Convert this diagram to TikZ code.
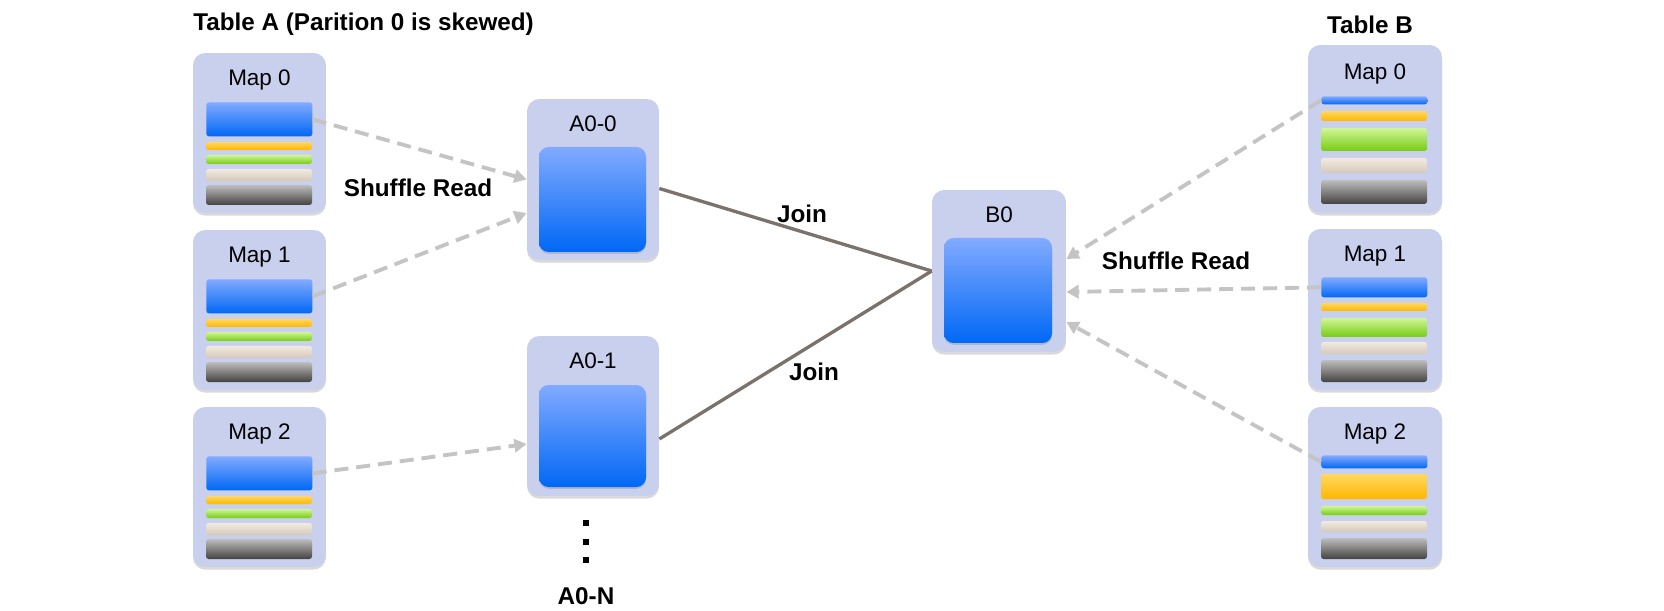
\documentclass[tikz,border=0pt]{standalone}
\usepackage{fontspec}
\setmainfont{Liberation Sans}
\usetikzlibrary{positioning}
\usetikzlibrary{arrows.meta}
\usetikzlibrary{shadows}

\definecolor{boxfill}{RGB}{200,208,238}
\definecolor{bluetop}{RGB}{130,170,255}
\definecolor{bluebot}{RGB}{0,104,245}
\definecolor{yeltop}{RGB}{255,216,96}
\definecolor{yelbot}{RGB}{255,182,0}
\definecolor{grntop}{RGB}{208,246,152}
\definecolor{grnbot}{RGB}{118,204,18}
\definecolor{begtop}{RGB}{242,234,224}
\definecolor{begbot}{RGB}{212,200,186}
\definecolor{grytop}{RGB}{190,190,190}
\definecolor{grybot}{RGB}{68,66,64}
\definecolor{readgray}{RGB}{196,196,196}
\definecolor{joingray}{RGB}{122,114,107}

\begin{document}
\begin{tikzpicture}[x=0.02cm,y=-0.02cm,
 box/.style={fill=boxfill,rounded corners=7pt,minimum width=2.66cm,inner sep=0pt,
  drop shadow={shadow xshift=0pt,shadow yshift=-1.5pt,opacity=.3,fill=black!50}},
 lbl/.style={anchor=base,inner sep=0pt,font=\fontsize{12.8}{15}\selectfont},
 ttl/.style={anchor=base,inner sep=0pt,font=\bfseries\fontsize{13.8}{16}\selectfont},
 bluebar/.style={anchor=north west,inner sep=0pt,minimum width=2.12cm,rounded corners=1.5pt,
  top color=bluetop,bottom color=bluebot},
 yelbar/.style={rounded corners=1.5pt,top color=yeltop,bottom color=yelbot},
 grnbar/.style={rounded corners=1.5pt,top color=grntop,bottom color=grnbot},
 begbar/.style={rounded corners=1.5pt,top color=begtop,bottom color=begbot},
 grybar/.style={rounded corners=1.5pt,top color=grytop,bottom color=grybot},
 part/.style={rounded corners=5.5pt,top color=bluetop,bottom color=bluebot,
  drop shadow={shadow xshift=0pt,shadow yshift=-1pt,opacity=.25,fill=black!60}},
 dot/.style={fill=black,inner sep=0pt,minimum size=0.12cm},
 read/.style={draw=readgray,line width=2.2pt,dash pattern=on 8pt off 4.5pt,
  -{Triangle[length=7pt,width=7.5pt]}},
 joinline/.style={draw=joingray,line width=1.9pt}]
\useasboundingbox (0,0) rectangle (1664,611);

% table A
\node[ttl,anchor=base west] (tA) at (193,31) {Table A (Parition 0 is skewed)};
\node[box,minimum height=3.2cm] (ma0) at (259.5,133) {};
\node[box,minimum height=3.2cm] (ma1) at (259.5,310) {};
\node[box,minimum height=3.2cm] (ma2) at (259.5,487) {};
\node[lbl] (ma0t) at ([yshift=-0.66cm]ma0.north) {Map 0};
\node[lbl] (ma1t) at ([yshift=-0.66cm]ma1.north) {Map 1};
\node[lbl] (ma2t) at ([yshift=-0.66cm]ma2.north) {Map 2};
\node[bluebar,minimum height=0.68cm] (ma0b) at (206,102) {};
\shade[yelbar] (206,142) rectangle (312,150);
\shade[grnbar] (206,155) rectangle (312,164);
\shade[begbar] (206,169) rectangle (312,181);
\shade[grybar] (206,185) rectangle (312,205);
\node[bluebar,minimum height=0.68cm] (ma1b) at (206,279) {};
\shade[yelbar] (206,319) rectangle (312,327);
\shade[grnbar] (206,332) rectangle (312,341);
\shade[begbar] (206,346) rectangle (312,358);
\shade[grybar] (206,362) rectangle (312,382);
\node[bluebar,minimum height=0.68cm] (ma2b) at (206,456) {};
\shade[yelbar] (206,496) rectangle (312,504);
\shade[grnbar] (206,509) rectangle (312,518);
\shade[begbar] (206,523) rectangle (312,535);
\shade[grybar] (206,539) rectangle (312,559);

% reducers of A
\node[box,minimum width=2.64cm,minimum height=3.22cm] (a00) at (593,179.5) {};
\node[box,minimum width=2.64cm,minimum height=3.2cm] (a01) at (593,416) {};
\node[lbl] (a00t) at ([yshift=-0.66cm]a00.north) {A0-0};
\node[lbl] (a01t) at ([yshift=-0.66cm]a01.north) {A0-1};
\shade[part] (539,147) rectangle (646,252);
\shade[part] (539,385) rectangle (646,487);
\node[dot] (d1) at (586,523) {};
\node[dot] (d2) at (586,542) {};
\node[dot] (d3) at (586,560) {};
\node[ttl] (a0n) at (586,604) {A0-N};

% B0
\node[box,minimum width=2.68cm,minimum height=3.24cm] (b0) at (999,271) {};
\node[lbl] (b0t) at ([yshift=-0.66cm]b0.north) {B0};
\shade[part] (944,238) rectangle (1052,343);

% table B
\node[ttl] (tB) at (1370,34) {Table B};
\node[box,minimum width=2.68cm,minimum height=3.36cm] (mb0) at (1375,129) {};
\node[box,minimum width=2.68cm,minimum height=3.22cm] (mb1) at (1375,309.5) {};
\node[box,minimum width=2.68cm,minimum height=3.2cm] (mb2) at (1375,487) {};
\node[lbl] (mb0t) at ([yshift=-0.7cm]mb0.north) {Map 0};
\node[lbl] (mb1t) at ([yshift=-0.66cm]mb1.north) {Map 1};
\node[lbl] (mb2t) at ([yshift=-0.66cm]mb2.north) {Map 2};
\node[bluebar,minimum height=0.16cm] (mb0b) at (1321,96) {};
\shade[yelbar] (1321,111) rectangle (1427,121);
\shade[grnbar] (1321,128) rectangle (1427,151);
\shade[begbar] (1321,158) rectangle (1427,173);
\shade[grybar] (1321,180) rectangle (1427,204);
\node[bluebar,minimum height=0.4cm] (mb1b) at (1321,277) {};
\shade[yelbar] (1321,303) rectangle (1427,311);
\shade[grnbar] (1321,318) rectangle (1427,337);
\shade[begbar] (1321,342) rectangle (1427,354);
\shade[grybar] (1321,360) rectangle (1427,382);
\node[bluebar,minimum height=0.26cm] (mb2b) at (1321,455) {};
\shade[yelbar] (1321,474) rectangle (1427,499);
\shade[grnbar] (1321,506) rectangle (1427,515);
\shade[begbar] (1321,521) rectangle (1427,532);
\shade[grybar] (1321,538) rectangle (1427,559);

% shuffle reads
\draw[read] (ma0b.east) -- (a00.west);
\draw[read] (ma1b.east) -- ([yshift=-0.67cm]a00.west);
\draw[read] (ma2b.east) -- ([yshift=-0.56cm]a01.west);
\draw[read] (mb0b.west) -- ([yshift=0.24cm]b0.east);
\draw[read] (mb1b.west) -- ([yshift=-0.42cm]b0.east);
\draw[read] (mb2b.west) -- ([yshift=-1.02cm]b0.east);
\node[ttl] (srA) at (418,197) {Shuffle Read};
\node[ttl] (srB) at (1176,270) {Shuffle Read};

% joins
\draw[joinline] ([yshift=-0.18cm]a00.east) -- (b0.west);
\draw[joinline] ([yshift=-0.46cm]a01.east) -- (b0.west);
\node[ttl] (j0) at (802,223) {Join};
\node[ttl] (j1) at (814,380) {Join};
\end{tikzpicture}
\end{document}
